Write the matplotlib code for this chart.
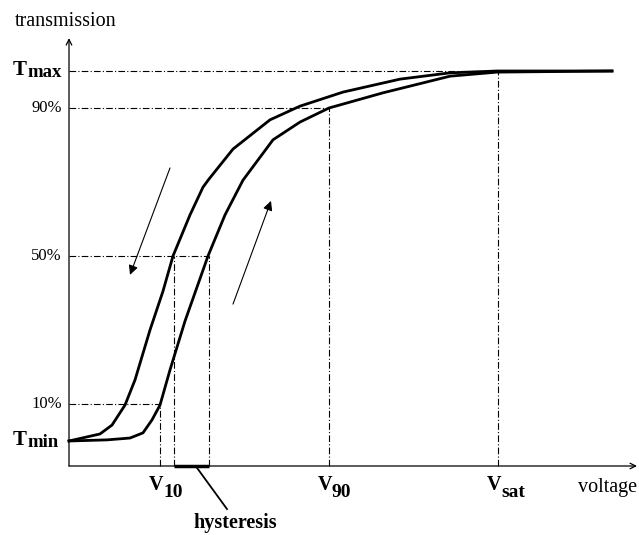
import matplotlib
matplotlib.use("Agg")
import matplotlib.pyplot as plt

# voltage (arbitrary units) / transmission (% between Tmin and Tmax)
v_rise = [0.0, 3.8, 6.1, 7.4, 8.3, 9.1, 10.1, 11.6, 13.9, 15.6, 17.4, 20.4, 23.1, 26.0, 31.4, 38.1, 42.8, 54.3]
t_rise = [0.0, 0.3, 0.8, 2.2, 5.7, 9.7, 19.2, 32.4, 50.0, 61.1, 70.5, 81.4, 86.2, 90.0, 94.1, 98.6, 99.7, 100.0]
v_fall = [0.0, 3.1, 4.3, 5.6, 6.6, 8.1, 9.4, 10.4, 12.1, 13.4, 14.0, 16.4, 20.1, 23.1, 27.4, 33.1, 38.1, 42.8, 54.3]
t_fall = [0.0, 1.9, 4.3, 9.7, 16.5, 30.0, 40.5, 50.0, 61.1, 68.6, 70.8, 78.9, 86.8, 90.5, 94.3, 97.8, 99.5, 100.0, 100.0]

levels = [100, 90, 50, 10]          # Tmax, 90%, 50%, 10%
level_v = [42.9, 26.0, 14.0, 9.1]   # where each level meets a curve
v10, v90, vsat = 9.1, 26.0, 42.9
hyst = [10.5, 14.0]                 # V at 50% on falling / rising curve

fig = plt.figure(figsize=(6.39, 5.35), dpi=100)
ax = fig.add_axes([0, 0, 1, 1])
ax.set_xlim(-6.9, 57.0)
ax.set_ylim(-25.41, 119.19)
ax.axis("off")

serif = "Liberation Serif"
y_axis = -6.76

# axes with arrows
ax.annotate("", xy=(0, 108.9), xytext=(0, y_axis),
            arrowprops=dict(arrowstyle="->", lw=0.9, color="black", shrinkA=0, shrinkB=0))
ax.annotate("", xy=(56.8, y_axis), xytext=(0, y_axis),
            arrowprops=dict(arrowstyle="->", lw=0.9, color="black", shrinkA=0, shrinkB=0))

# dash-dot guide lines
dd = dict(color="black", lw=0.8, linestyle=(0, (6, 2, 1, 2)))
for lv, vx in zip(levels, level_v):
    ax.plot([0, vx], [lv, lv], **dd)
ax.plot([v10, v10], [y_axis, 10], **dd)
ax.plot([hyst[0], hyst[0]], [y_axis, 50], **dd)
ax.plot([hyst[1], hyst[1]], [y_axis, 50], **dd)
ax.plot([v90, v90], [y_axis, 90], **dd)
ax.plot([vsat, vsat], [y_axis, 100], **dd)

# curves
ax.plot(v_rise, t_rise, color="black", lw=2.0, solid_joinstyle="round")
ax.plot(v_fall, t_fall, color="black", lw=2.0, solid_joinstyle="round")

# direction arrows
ax.annotate("", xy=(6.1, 44.9), xytext=(10.1, 73.8),
            arrowprops=dict(arrowstyle="-|>", lw=0.8, color="black",
                            mutation_scale=14, shrinkA=0, shrinkB=0))
ax.annotate("", xy=(20.2, 64.9), xytext=(16.4, 37.0),
            arrowprops=dict(arrowstyle="-|>", lw=0.8, color="black",
                            mutation_scale=14, shrinkA=0, shrinkB=0))

# hysteresis width
ax.plot(hyst, [y_axis, y_axis], color="black", lw=2.5, solid_capstyle="butt")
ax.plot([12.8, 15.8], [y_axis - 0.5, -18.4], color="black", lw=1.3)
ax.text(16.6, -22.2, "hysteresis", family=serif, weight="bold", fontsize=14.5,
        ha="center", va="center")

# labels
ax.text(-0.3, 113.5, "transmission", family=serif, fontsize=14.5, ha="center", va="center")
ax.text(53.9, -12.7, "voltage", family=serif, fontsize=14.5, ha="center", va="center")

for lv, big, small in [(100, "T", "max"), (0, "T", "min")]:
    ax.text(-4.2, lv + 0.4, big, family=serif, weight="bold", fontsize=15, ha="right", va="center")
    ax.text(-4.2, lv - 0.4, small, family=serif, weight="bold", fontsize=13.5, ha="left", va="center")
for lv, lab in zip([90, 50, 10], ["90%", "50%", "10%"]):
    ax.text(-0.7, lv, lab, family=serif, fontsize=12, ha="right", va="center")

for vx, sub in zip([v10, v90, vsat], ["10", "90", "sat"]):
    ax.text(vx + 0.3, -11.8, "V", family=serif, weight="bold", fontsize=14.5, ha="right", va="center")
    ax.text(vx + 0.3, -13.8, sub, family=serif, weight="bold", fontsize=14, ha="left", va="center")

fig.savefig("out.png", dpi=100)
